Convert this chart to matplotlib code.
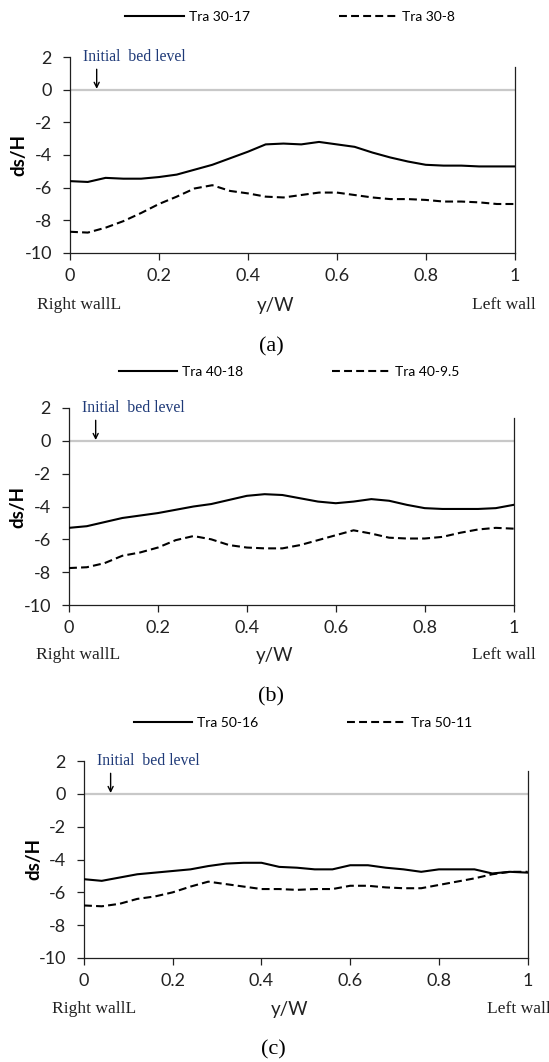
import numpy as np
import matplotlib
matplotlib.use("Agg")
import matplotlib.pyplot as plt

plt.rcParams["axes.unicode_minus"] = False

# ---------------- data ----------------
y_over_W = [0.00, 0.04, 0.08, 0.12, 0.16, 0.20, 0.24, 0.28, 0.32, 0.36, 0.40, 0.44, 0.48,
            0.52, 0.56, 0.60, 0.64, 0.68, 0.72, 0.76, 0.80, 0.84, 0.88, 0.92, 0.96, 1.00]

labels_a = ["Tra 30-17", "Tra 30-8"]
tra_30_17 = [-5.60, -5.65, -5.40, -5.45, -5.45, -5.35, -5.20, -4.90, -4.60, -4.20, -3.80, -3.35, -3.30,
             -3.35, -3.20, -3.35, -3.50, -3.85, -4.15, -4.40, -4.60, -4.65, -4.65, -4.70, -4.70, -4.70]
tra_30_8 = [-8.70, -8.75, -8.45, -8.05, -7.55, -7.00, -6.55, -6.05, -5.85, -6.20, -6.35, -6.55, -6.60,
            -6.45, -6.30, -6.30, -6.45, -6.60, -6.70, -6.70, -6.75, -6.85, -6.85, -6.90, -7.00, -7.00]

labels_b = ["Tra 40-18", "Tra 40-9.5"]
tra_40_18 = [-5.30, -5.20, -4.95, -4.70, -4.55, -4.40, -4.20, -4.00, -3.85, -3.60, -3.35, -3.25, -3.30,
             -3.50, -3.70, -3.80, -3.70, -3.55, -3.65, -3.90, -4.10, -4.15, -4.15, -4.15, -4.10, -3.90]
tra_40_9_5 = [-7.75, -7.70, -7.45, -7.00, -6.80, -6.50, -6.05, -5.80, -6.00, -6.35, -6.50, -6.55, -6.55,
              -6.35, -6.05, -5.75, -5.45, -5.65, -5.90, -5.95, -5.95, -5.85, -5.60, -5.40, -5.30, -5.35]

labels_c = ["Tra 50-16", "Tra 50-11"]
tra_50_16 = [-5.20, -5.30, -5.10, -4.90, -4.80, -4.70, -4.60, -4.40, -4.25, -4.20, -4.20, -4.45, -4.50,
             -4.60, -4.60, -4.35, -4.35, -4.50, -4.60, -4.75, -4.60, -4.60, -4.60, -4.85, -4.75, -4.80]
tra_50_11 = [-6.80, -6.85, -6.70, -6.40, -6.25, -6.00, -5.65, -5.35, -5.50, -5.65, -5.80, -5.80, -5.85,
             -5.80, -5.80, -5.60, -5.60, -5.70, -5.75, -5.75, -5.55, -5.35, -5.15, -4.90, -4.75, -4.75]

panel_tags = ["(a)", "(b)", "(c)"]
x_ticks = [0, 0.2, 0.4, 0.6, 0.8, 1]
x_tick_labels = ["0", "0.2", "0.4", "0.6", "0.8", "1"]
y_ticks = [2, 0, -2, -4, -6, -8, -10]
bed_level = 0
arrow_x = 0.06

# ---------------- layout ----------------
W, H = 549, 1062
fig = plt.figure(figsize=(W / 100, H / 100), dpi=100)

SANS = "Lato"
SERIF = "Liberation Serif"

def fx(px):
    return px / W

def fy(py):
    return 1 - py / H

# pixel boxes: left, right, top(y=2), bottom(y=-10)
boxes = [(70, 514.7, 57, 253), (69, 513.6, 408, 605), (84, 527.7, 761, 958)]
legend_centers = [(290, 17), (289, 372), (303, 723)]
label_rows = [305, 655, 1009]
tag_rows = [347, 697, 1050]
ylab_x = [27, 26, 42]
right_wall_x = [79, 78, 94]
yw_x = [276, 275, 290]
left_wall_right = [536, 536, 551]
tag_x = [271, 271, 273]

series = [(tra_30_17, tra_30_8, labels_a),
          (tra_40_18, tra_40_9_5, labels_b),
          (tra_50_16, tra_50_11, labels_c)]

for i, (solid, dashed, labs) in enumerate(series):
    l, r, t, b = boxes[i]
    ax = fig.add_axes([fx(l), fy(b), fx(r) - fx(l), fy(t) - fy(b)])
    ax.axhline(bed_level, color="#c8c8c8", lw=1.6, zorder=1)
    h1, = ax.plot(y_over_W, solid, color="black", lw=1.5, label=labs[0], zorder=3)
    h2, = ax.plot(y_over_W, dashed, color="black", lw=1.5, ls=(0, (3.8, 2.0)), label=labs[1], zorder=3)
    ax.set_xlim(0, 1)
    ax.set_ylim(-10, 2)
    ax.set_xticks(x_ticks)
    ax.set_xticklabels(x_tick_labels)
    ax.set_yticks(y_ticks)
    ax.spines["top"].set_visible(False)
    for s in ["left", "bottom", "right"]:
        ax.spines[s].set_linewidth(0.9)
        ax.spines[s].set_color("#202020")
    ax.spines["right"].set_bounds(-10, 1.4)
    ax.tick_params(axis="both", direction="out", length=5, width=0.9, color="#202020",
                   labelsize=13)
    ax.tick_params(axis="x", pad=6)
    ax.tick_params(axis="y", pad=8)
    for lab in ax.get_xticklabels() + ax.get_yticklabels():
        lab.set_fontfamily(SANS)
        lab.set_color("#222222")
    ax.set_ylabel("ds/H", fontfamily=SANS, fontsize=13.5, fontweight="bold")
    ax.yaxis.set_label_coords((ylab_x[i] - l) / (r - l), 0.5)
    # initial bed level annotation
    ax.text(0.029, 2.0, "Initial  bed level", fontfamily=SERIF, fontsize=11.3,
            color="#1f3a78", ha="left", va="center")
    ax.annotate("", xy=(arrow_x, bed_level + 0.05), xytext=(arrow_x, 1.25),
                arrowprops=dict(arrowstyle="->", color="black", lw=1.0,
                                mutation_scale=9, shrinkA=0, shrinkB=0))
    # text below
    fig.text(fx(right_wall_x[i]), fy(label_rows[i]), "Right wallL", fontfamily=SERIF,
             fontsize=12.6, ha="center", va="center", color="#222222")
    fig.text(fx(yw_x[i]), fy(label_rows[i]), "y/W", fontfamily=SANS,
             fontsize=13.5, ha="center", va="center", color="#222222")
    fig.text(fx(left_wall_right[i]), fy(label_rows[i]), "Left wall", fontfamily=SERIF,
             fontsize=12.6, ha="right", va="center", color="#222222")
    fig.text(fx(tag_x[i]), fy(tag_rows[i]), panel_tags[i], fontfamily=SERIF,
             fontsize=16, ha="center", va="center", color="black")
    # legend
    cx, cy = legend_centers[i]
    fig.legend(handles=[h1, h2], loc="center", bbox_to_anchor=(fx(cx), fy(cy)),
               ncol=2, frameon=False, prop={"family": SANS, "size": 10},
               handlelength=4.2, handletextpad=0.35, columnspacing=6.4,
               borderpad=0, borderaxespad=0)

fig.savefig("out.png", dpi=100)
